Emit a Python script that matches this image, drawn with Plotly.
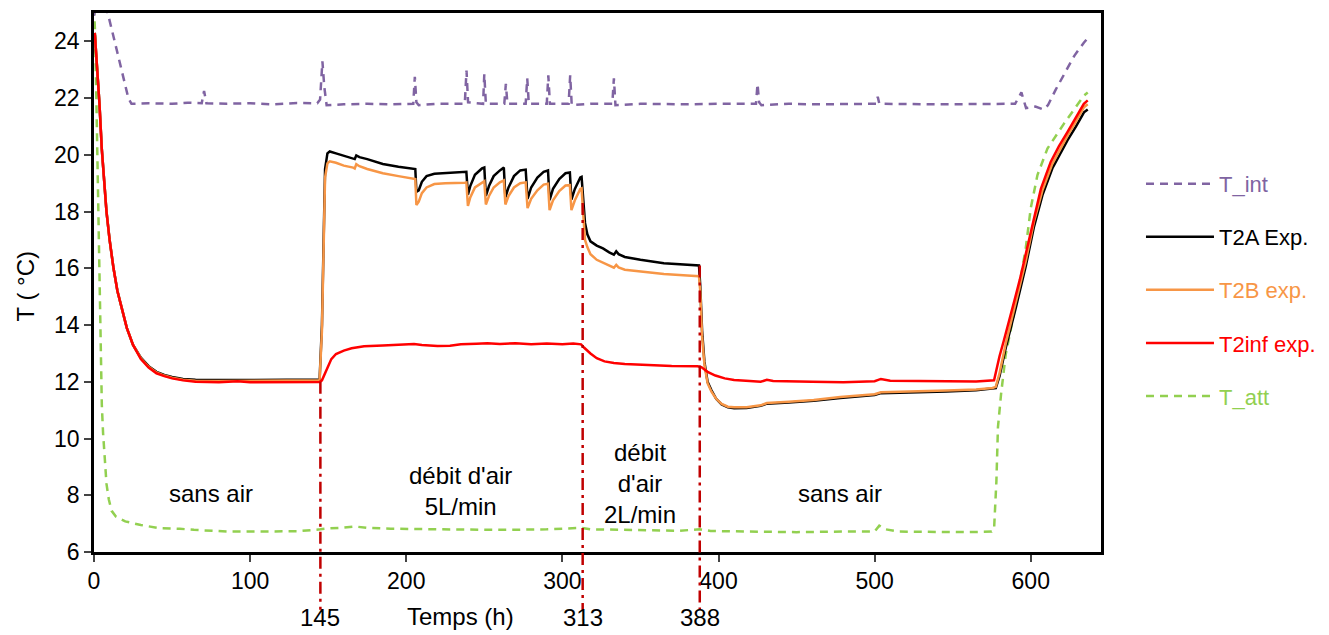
import plotly.graph_objects as go

# ---------------- data ----------------
t_int_t = [0, 1.5, 5, 8.8, 15, 22, 24, 35, 50, 60, 69, 70.5, 72, 85, 100, 115, 130, 143, 144.8, 146.3, 147.5, 149,
           160, 175, 190, 204.5, 205.5, 206.5, 208, 220, 237.5, 238.6, 239.6, 249.2, 250, 251, 262.8, 263.8, 264.8,
           276.5, 277.5, 278.5, 290, 291, 292, 304, 305, 306, 318, 332, 333, 334, 350, 380, 400, 424, 425, 426,
           427.5, 445, 460, 480, 501, 502, 503, 540, 570, 590, 594, 597, 603, 608, 611, 616, 622, 628, 634, 637]
t_int_v = [24.9, 25.4, 25.5, 25.0, 23.6, 22.0, 21.8, 21.82, 21.8, 21.84, 21.82, 22.25, 21.82, 21.8, 21.82, 21.78,
           21.83, 21.82, 21.95, 23.3, 22.4, 21.75, 21.78, 21.8, 21.78, 21.8, 22.75, 21.85, 21.75, 21.8, 21.8, 22.97,
           21.85, 21.8, 22.85, 21.8, 21.8, 22.5, 21.8, 21.8, 22.7, 21.8, 21.8, 22.8, 21.8, 21.8, 22.8, 21.75, 21.8,
           21.8, 22.7, 21.75, 21.8, 21.78, 21.8, 21.8, 22.5, 21.85, 21.75, 21.8, 21.78, 21.8, 21.8, 22.05, 21.8,
           21.78, 21.8, 21.8, 22.2, 21.65, 21.7, 21.6, 21.75, 22.3, 22.9, 23.5, 23.95, 24.15]

t2a_t = [0.5, 2, 3.5, 5, 6.5, 8, 10, 12.5, 15, 18, 21, 25, 30, 35, 40, 45, 50, 57, 65, 80, 100, 120, 144.5,
         146, 147, 148, 149.5, 151, 155, 160, 166, 167, 168, 170, 175, 185, 195, 205, 205.8, 206.5, 208, 210,
         213, 218, 225, 237.5, 238.5, 239.5, 241, 244, 248.5, 250, 251, 253, 256, 260, 262.5, 263.5, 265.5, 269,
         273, 276.5, 277.7, 280, 284, 288, 290.8, 291.8, 294, 298, 302, 304.8, 305.8, 308, 311.5, 312.3, 313.5,
         314.5, 316, 318, 322, 326, 330, 333, 334.5, 336, 340, 350, 365, 380, 387.5, 388.3, 389.5, 391, 393,
         395.5, 398.5, 402, 406, 410, 418, 427, 431, 445, 461, 478, 495, 500, 504, 525, 546, 565, 575.5, 577.6,
         580, 584, 590.4, 596.8, 602.1, 607.5, 613.8, 618.5, 623.5, 629, 634.1, 636.5]
t2a_v = [24.3, 23.2, 21.8, 20.2, 19.0, 18.0, 17.0, 16.0, 15.2, 14.5, 13.9, 13.3, 12.85, 12.55, 12.35, 12.24, 12.17,
         12.1, 12.07, 12.06, 12.07, 12.06, 12.08,
         14.0, 17.5, 19.5, 20.05, 20.12, 20.05, 19.97, 19.88, 19.85, 19.98, 19.92, 19.85, 19.68, 19.58, 19.52,
         19.5, 18.7, 18.75, 19.05, 19.25, 19.33, 19.35, 19.38, 19.4, 18.6, 18.9, 19.3, 19.52, 19.55, 18.55, 18.9,
         19.25, 19.45, 19.55, 18.5, 18.85, 19.25, 19.45, 19.48, 18.45, 18.85, 19.2, 19.4, 19.45, 18.4, 18.8, 19.15,
         19.35, 19.38, 18.42, 18.8, 19.2, 19.22, 18.4, 17.6, 17.2, 16.95, 16.8, 16.7, 16.56, 16.48, 16.6, 16.5,
         16.4, 16.3, 16.18, 16.13, 16.1, 15.4, 13.8, 12.7, 12.0, 11.7, 11.4, 11.2, 11.1, 11.07, 11.08, 11.15,
         11.23, 11.27, 11.33, 11.43, 11.5, 11.53, 11.6, 11.62, 11.66, 11.7, 11.75, 11.78,
         12.2, 13.2, 14.6, 16.07, 17.47, 18.58, 19.52, 20.0, 20.51, 21.0, 21.5, 21.6]

t2b_t = t2a_t
t2b_v = [24.3, 23.2, 21.8, 20.2, 19.0, 18.0, 17.0, 16.0, 15.2, 14.5, 13.9, 13.3, 12.83, 12.53, 12.33, 12.22, 12.14,
         12.07, 12.04, 12.03, 12.04, 12.03, 12.05,
         13.8, 17.2, 19.2, 19.7, 19.77, 19.72, 19.62, 19.55, 19.52, 19.67, 19.6, 19.5, 19.35, 19.25, 19.17,
         19.15, 18.23, 18.35, 18.65, 18.85, 18.97, 19.0, 19.02, 19.03, 18.2, 18.5, 18.85, 19.03, 19.07, 18.25,
         18.55, 18.85, 19.03, 19.1, 18.25, 18.55, 18.85, 19.0, 19.03, 18.12, 18.45, 18.75, 18.95, 18.98, 18.05,
         18.4, 18.72, 18.92, 18.93, 18.05, 18.4, 18.8, 18.82, 17.8, 17.0, 16.75, 16.5, 16.3, 16.2, 16.1, 16.02,
         16.12, 16.03, 15.95, 15.88, 15.8, 15.75, 15.72, 15.2, 13.6, 12.6, 11.95, 11.65, 11.4, 11.22, 11.12,
         11.1, 11.1, 11.17, 11.25, 11.3, 11.36, 11.46, 11.53, 11.56, 11.63, 11.65, 11.69, 11.73, 11.78, 11.82,
         12.3, 13.35, 14.75, 16.25, 17.65, 18.75, 19.68, 20.17, 20.67, 21.18, 21.68, 21.78]

t2inf_t = [0.5, 2, 3.5, 5, 6.5, 8, 10, 12.5, 15, 18, 21, 25, 30, 35, 40, 45, 50, 57, 65, 80, 92, 100, 120, 144.5,
           146, 148, 150, 152, 155, 160, 165, 173, 185, 195, 205, 210, 220, 228, 235, 245, 252, 260, 270, 280,
           290, 300, 307, 312, 314, 318, 322, 327, 333, 340, 355, 370, 386.5, 389, 393, 398, 404, 410, 420, 427,
           431, 435, 460, 480, 500, 504, 510, 530, 550, 565, 576.5, 580, 583, 586, 589.5, 593, 596, 600, 603,
           606.5, 612.8, 618, 623.5, 629, 634, 636.5]
t2inf_v = [24.3, 23.2, 21.8, 20.2, 19.0, 18.0, 17.0, 16.0, 15.2, 14.5, 13.9, 13.3, 12.8, 12.5, 12.3, 12.2, 12.12,
           12.05, 12.0, 11.98, 12.02, 11.98, 11.98, 11.99,
           12.05, 12.3, 12.6, 12.8, 12.98, 13.1, 13.18, 13.25, 13.28, 13.3, 13.33, 13.3, 13.26, 13.27, 13.32,
           13.34, 13.36, 13.33, 13.36, 13.32, 13.35, 13.32, 13.35, 13.32, 13.2, 13.0, 12.83, 12.72, 12.66, 12.63,
           12.59, 12.56, 12.55, 12.52, 12.35, 12.22, 12.12, 12.06, 12.03, 12.0, 12.07, 12.03, 12.0, 11.98, 12.02,
           12.1, 12.04, 12.03, 12.02, 12.01, 12.05, 12.9, 13.5, 14.1, 14.85, 15.6, 16.3, 17.3, 17.95, 18.8,
           19.75, 20.3, 20.8, 21.35, 21.8, 21.92]

t_att_t = [0, 0.7, 1.5, 2.5, 3.3, 4.2, 5, 5.8, 7, 8, 9.5, 11.3, 14, 20, 30, 42, 55, 64, 86, 110, 130, 145, 150, 160,
           167, 175, 190, 220, 260, 290, 312, 318, 340, 360, 375, 388, 395, 420, 450, 480, 500, 503, 507, 515, 540,
           560, 575, 576.5, 578, 579, 581, 584, 588.3, 592.5, 596.8, 600, 604.3, 610.7, 621.3, 634.1, 636.5]
t_att_v = [25.2, 24.3, 22.0, 18.65, 15.5, 12.6, 11.2, 10.2, 9.1, 8.4, 7.85, 7.45, 7.25, 7.08, 6.95, 6.84, 6.82, 6.78,
           6.72, 6.72, 6.73, 6.8, 6.83, 6.86, 6.9, 6.85, 6.82, 6.8, 6.78, 6.8, 6.85, 6.8, 6.78, 6.75, 6.75, 6.8,
           6.74, 6.72, 6.7, 6.72, 6.72, 6.93, 6.8, 6.72, 6.7, 6.7, 6.72, 6.8, 8.5, 10.4, 11.57, 12.97, 14.14, 15.31,
           16.71, 18.12, 19.29, 20.22, 21.1, 22.09, 22.2]

# phase boundaries (h) and the curve level where each marker line starts
phase_t = [145, 313, 388]
phase_top = [12.0, 18.3, 16.1]
phase_labels = ["145", "313", "388"]

regions = [(75, 8.07, "sans air"), (235, 8.14, "débit d'air<br>5L/min"),
           (350, 8.4, "débit<br>d'air<br>2L/min"), (478, 8.07, "sans air")]

x_ticks = [0, 100, 200, 300, 400, 500, 600]
y_ticks = [6, 8, 10, 12, 14, 16, 18, 20, 22, 24]

# ---------------- figure ----------------
FONT = "Liberation Sans, Arial, sans-serif"
fig = go.Figure()

def add(t, v, name, color, dash, rank):
    fig.add_trace(go.Scatter(
        x=t, y=v, mode="lines",
        name=f"<span style='color:{color}'>{name}</span>",
        line=dict(color=color, width=2.5, dash=dash),
        legendgroup=name, legendrank=rank,
    ))

add(t_att_t, t_att_v, "T_att", "#92D050", "8px,6px", 5)
add(t_int_t, t_int_v, "T_int", "#8064A2", "8px,6px", 1)
add(t2a_t, t2a_v, "T2A Exp.", "#000000", "solid", 2)
add(t2b_t, t2b_v, "T2B exp.", "#F79646", "solid", 3)
add(t2inf_t, t2inf_v, "T2inf exp.", "#FF0000", "solid", 4)

Y0, Y1 = 6, 25
for t, top in zip(phase_t, phase_top):
    fig.add_shape(type="line", xref="x", yref="paper", x0=t, x1=t,
                  y0=(top - Y0) / (Y1 - Y0), y1=-0.107,
                  line=dict(color="#C00000", width=2.5, dash="12px,5px,3px,5px"))

for t, lab in zip(phase_t, phase_labels):
    fig.add_annotation(x=t, y=-0.122, xref="x", yref="paper", text=lab, showarrow=False,
                       font=dict(size=24, color="black", family=FONT), xanchor="center", yanchor="middle")

for t, v, txt in regions:
    fig.add_annotation(x=t, y=v, xref="x", yref="y", text=txt, showarrow=False,
                       font=dict(size=24, color="black", family=FONT), align="center",
                       xanchor="center", yanchor="middle")

fig.add_annotation(x=235, y=-0.12, xref="x", yref="paper", text="Temps (h)", showarrow=False,
                   font=dict(size=24, color="black", family=FONT), xanchor="center", yanchor="middle")
fig.add_annotation(x=-0.0685, y=0.4926, xref="paper", yref="paper", text="T ( °C)", showarrow=False,
                   textangle=-90, font=dict(size=24, color="black", family=FONT),
                   xanchor="center", yanchor="middle", borderpad=0)

fig.update_layout(
    width=1329, height=635,
    margin=dict(l=86, r=236, t=2, b=91),
    plot_bgcolor="white", paper_bgcolor="white",
    font=dict(family=FONT, size=23, color="black"),
    showlegend=True,
    legend=dict(x=1.0397, y=0.722, xanchor="left", yanchor="top", tracegroupgap=21.5,
                font=dict(size=22, family=FONT), itemwidth=68, bgcolor="rgba(0,0,0,0)"),
    xaxis=dict(range=[0, 645], tickvals=x_ticks, ticks="outside", ticklen=7, tickwidth=1.5,
               showline=True, linecolor="black", linewidth=2.5, mirror=True, showgrid=False,
               zeroline=False, tickfont=dict(size=23)),
    yaxis=dict(range=[Y0, Y1], tickvals=y_ticks, ticks="outside", ticklen=7, tickwidth=1.5,
               showline=True, linecolor="black", linewidth=2.5, mirror=True, showgrid=False,
               zeroline=False, tickfont=dict(size=23)),
)

fig.write_html("out.html")
